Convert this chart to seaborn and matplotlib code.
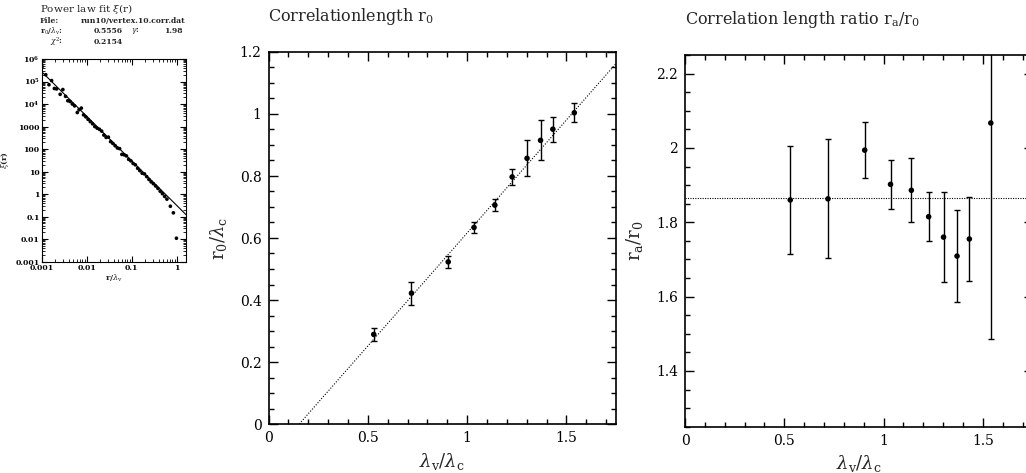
import numpy as np
import pandas as pd
import matplotlib
matplotlib.use("Agg")
import matplotlib.pyplot as plt
import matplotlib.ticker as mticker
import seaborn as sns

# Power law fit panel
r_vals = [0.00102, 0.00123, 0.00145, 0.00166, 0.00191, 0.00214, 0.00257, 0.00295,
          0.00339, 0.0038, 0.00427, 0.00479, 0.00537, 0.00617, 0.00676, 0.00759,
          0.00851, 0.00955, 0.0107, 0.012, 0.0135, 0.0151, 0.017, 0.0191, 0.0214,
          0.024, 0.0269, 0.0302, 0.0339, 0.038, 0.0427, 0.0479, 0.0537, 0.0603,
          0.0676, 0.0759, 0.0851, 0.0955, 0.107, 0.12, 0.135, 0.151, 0.17, 0.191,
          0.214, 0.24, 0.269, 0.302, 0.339, 0.38, 0.427, 0.479, 0.537, 0.603,
          0.72, 0.84, 0.98]
xi_vals = [4.6e5, 2.0e5, 7.2e4, 1.1e5, 4.9e4, 4.7e4, 2.7e4, 4.4e4,
           2.2e4, 1.4e4, 1.3e4, 1.0e4, 8.3e3, 4.2e3, 5.6e3, 6.6e3,
           3.3e3, 2.7e3, 2.1e3, 1.66e3, 1.32e3, 1.0e3, 850, 760, 630,
           420, 330, 340, 214, 178, 141, 112, 105, 58,
           56, 50, 35, 30, 23, 20, 14, 11, 8.5, 7.9,
           6.0, 4.5, 3.5, 2.9, 2.3, 1.8, 1.35, 1.05, 0.79, 0.6,
           0.29, 0.148, 0.011]
r0_fit = 0.5556
gamma_fit = 1.98
chi2_fit = 0.2154

# Correlation length r0 vs lambda_v/lambda_c
lam_ratio = [0.53, 0.72, 0.905, 1.035, 1.14, 1.227, 1.302, 1.37, 1.432, 1.54]
r0_vals = [0.289, 0.422, 0.523, 0.634, 0.706, 0.797, 0.857, 0.915, 0.951, 1.004]
r0_err = [0.022, 0.037, 0.02, 0.019, 0.02, 0.025, 0.058, 0.065, 0.04, 0.03]
fit_x0 = 0.155
fit_slope = 0.729

# Correlation length ratio ra/r0
ratio_vals = [1.860, 1.863, 1.994, 1.902, 1.886, 1.815, 1.760, 1.709, 1.755, 2.067]
ratio_err = [0.146, 0.16, 0.076, 0.065, 0.086, 0.066, 0.122, 0.124, 0.113, 0.58]
ratio_mean = 1.864

sns.set_theme(style="ticks")
plt.rcParams["font.family"] = ["DejaVu Serif"]
plt.rcParams["mathtext.fontset"] = "dejavuserif"
plt.rcParams.update({
    "xtick.direction": "in", "ytick.direction": "in",
    "xtick.top": True, "ytick.right": True,
    "xtick.major.size": 6.5, "ytick.major.size": 6.5,
    "xtick.minor.size": 3.5, "ytick.minor.size": 3.5,
    "xtick.major.width": 1.0, "ytick.major.width": 1.0,
    "xtick.minor.width": 1.0, "ytick.minor.width": 1.0,
    "axes.linewidth": 1.2, "axes.edgecolor": "black",
    "xtick.color": "black", "ytick.color": "black",
})

W, H = 1026, 473
fig = plt.figure(figsize=(W / 100, H / 100), dpi=100)


def box(x0, y0, x1, y1):
    return [x0 / W, 1 - y1 / H, (x1 - x0) / W, (y1 - y0) / H]


fmt_g = mticker.FuncFormatter(lambda v, p: "%g" % round(v, 6))
lam_label = r"$\lambda_\mathrm{v}/\lambda_\mathrm{c}$"

# ---- left: power law fit ----
ax1 = fig.add_axes(box(41.7, 59, 186, 261.7))
df_pl = pd.DataFrame({"r": r_vals, "xi": xi_vals})
sns.scatterplot(data=df_pl, x="r", y="xi", ax=ax1, color="black", s=7,
                edgecolor="none", zorder=3)
r_line = np.array([1e-3, 1.6])
ax1.plot(r_line, (r_line / r0_fit) ** (-gamma_fit), color="black", lw=0.8)
ax1.set_xscale("log")
ax1.set_yscale("log")
ax1.set_xlim(1e-3, 1.6)
ax1.set_ylim(1e-3, 1e6)
ax1.yaxis.set_major_locator(mticker.LogLocator(base=10, numticks=12))
ax1.yaxis.set_minor_locator(mticker.LogLocator(base=10, subs=np.arange(2, 10), numticks=12))
ax1.xaxis.set_major_formatter(fmt_g)
ax1.yaxis.set_major_formatter(mticker.FuncFormatter(
    lambda v, p: r"$\mathbf{10^{%d}}$" % round(np.log10(v)) if v >= 1e4 else "%g" % v))
ax1.xaxis.set_minor_formatter(mticker.NullFormatter())
ax1.yaxis.set_minor_formatter(mticker.NullFormatter())
ax1.tick_params(which="major", length=4, width=0.8, labelsize=5.5, pad=1.5)
ax1.tick_params(which="minor", length=2, width=0.6)
for lab in ax1.get_xticklabels() + ax1.get_yticklabels():
    lab.set_fontweight("bold")
ax1.set_xlabel(r"r/$\lambda_\mathrm{v}$", fontsize=6, fontweight="bold", labelpad=1)
ax1.set_ylabel(r"$\xi$(r)", fontsize=6, fontweight="bold", labelpad=3)
for s in ax1.spines.values():
    s.set_linewidth(0.8)

fig.text(40 / W, 1 - 9 / H, r"Power law fit $\xi$(r)", fontsize=7.5, va="center")
small = dict(fontsize=5.5, fontweight="bold", va="center")
fig.text(40 / W, 1 - 21 / H, "File:", **small)
fig.text(81 / W, 1 - 21 / H, "run10/vertex.10.corr.dat", **small)
fig.text(40 / W, 1 - 31 / H, r"r$_\mathrm{0}$/$\lambda_\mathrm{v}$:", **small)
fig.text(94 / W, 1 - 31 / H, "%.4f" % r0_fit, **small)
fig.text(131 / W, 1 - 31 / H, r"$\gamma$:", **small)
fig.text(164 / W, 1 - 31 / H, "%.2f" % gamma_fit, **small)
fig.text(50 / W, 1 - 42 / H, r"$\chi^2$:", **small)
fig.text(94 / W, 1 - 42 / H, "%.4f" % chi2_fit, **small)

# ---- middle: correlation length ----
ax2 = fig.add_axes(box(268.5, 52, 616, 424))
df_r0 = pd.DataFrame({"lam": lam_ratio, "r0": r0_vals, "err": r0_err})
ax2.errorbar(df_r0["lam"], df_r0["r0"], yerr=df_r0["err"], fmt="none",
             ecolor="black", elinewidth=1.0, capsize=2.5, capthick=1.0)
sns.scatterplot(data=df_r0, x="lam", y="r0", ax=ax2, color="black", s=16,
                edgecolor="none", zorder=3)
fit_x = np.array([fit_x0, 1.75])
sns.lineplot(x=fit_x, y=fit_slope * (fit_x - fit_x0), ax=ax2, color="black",
             lw=0.8, linestyle=(0, (1, 1.5)))
ax2.set_xlim(0, 1.75)
ax2.set_ylim(0, 1.2)
ax2.xaxis.set_major_locator(mticker.MultipleLocator(0.5))
ax2.xaxis.set_minor_locator(mticker.MultipleLocator(0.1))
ax2.yaxis.set_major_locator(mticker.MultipleLocator(0.2))
ax2.yaxis.set_minor_locator(mticker.MultipleLocator(0.05))
ax2.xaxis.set_major_formatter(fmt_g)
ax2.yaxis.set_major_formatter(fmt_g)
ax2.tick_params(labelsize=10, pad=5)
ax2.set_xlabel(lam_label, fontsize=13, labelpad=4)
ax2.set_ylabel(r"r$_\mathrm{0}$/$\lambda_\mathrm{c}$", fontsize=13, labelpad=8)
ax2.set_title(r"Correlationlength r$_\mathrm{0}$", loc="left", fontsize=11.5, pad=22)

# ---- right: correlation length ratio ----
ax3 = fig.add_axes(box(685, 55, 1032.5, 426.7))
df_ra = pd.DataFrame({"lam": lam_ratio, "ratio": ratio_vals, "err": ratio_err})
ax3.errorbar(df_ra["lam"], df_ra["ratio"], yerr=df_ra["err"], fmt="none",
             ecolor="black", elinewidth=1.0, capsize=2.5, capthick=1.0)
sns.scatterplot(data=df_ra, x="lam", y="ratio", ax=ax3, color="black", s=16,
                edgecolor="none", zorder=3)
ax3.axhline(ratio_mean, color="black", lw=0.8, linestyle=(0, (1, 1.2)))
ax3.set_xlim(0, 1.75)
ax3.set_ylim(1.25, 2.25)
ax3.xaxis.set_major_locator(mticker.MultipleLocator(0.5))
ax3.xaxis.set_minor_locator(mticker.MultipleLocator(0.1))
ax3.yaxis.set_major_locator(mticker.MultipleLocator(0.2))
ax3.yaxis.set_minor_locator(mticker.MultipleLocator(0.05))
ax3.xaxis.set_major_formatter(fmt_g)
ax3.yaxis.set_major_formatter(fmt_g)
ax3.tick_params(labelsize=10, pad=5)
ax3.set_xlabel(lam_label, fontsize=13, labelpad=4)
ax3.set_ylabel(r"r$_\mathrm{a}$/r$_\mathrm{0}$", fontsize=13, labelpad=8)
ax3.set_title(r"Correlation length ratio r$_\mathrm{a}$/r$_\mathrm{0}$", loc="left",
              fontsize=11.5, pad=22)

fig.savefig("out.png", dpi=100)
